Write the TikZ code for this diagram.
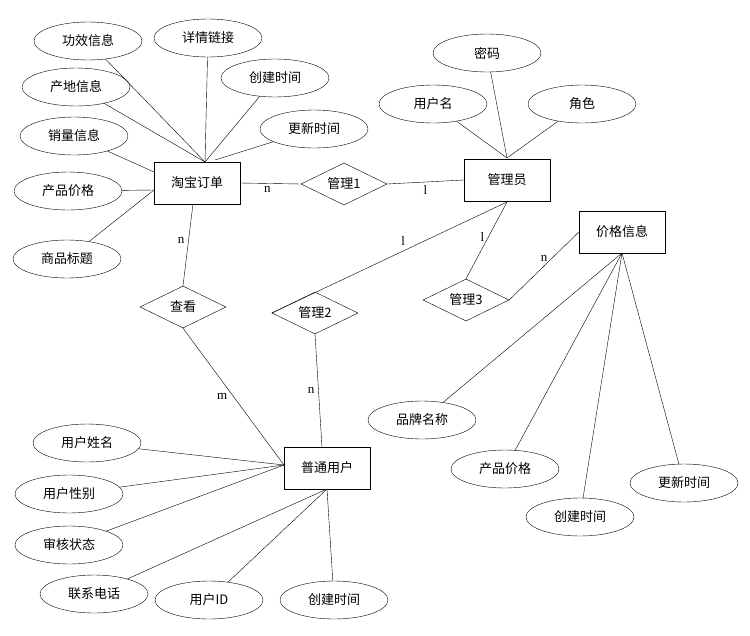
\documentclass[tikz,border=0pt]{standalone}
\usepackage{fontspec}
\setmainfont{Liberation Serif}
\newfontfamily\cjk{Noto Sans CJK SC}
\usetikzlibrary{shapes.geometric}
\begin{document}
\begin{tikzpicture}[x=1pt,y=-1pt,font=\cjk\fontsize{13}{15}\selectfont,
 attr/.style={draw,ellipse,minimum width=108pt,minimum height=38pt,inner sep=0pt},
 ent/.style={draw,rectangle,minimum width=86pt,minimum height=42pt,inner sep=0pt},
 rel/.style={draw,diamond,aspect=2,minimum width=86pt,minimum height=42pt,inner sep=0pt},
 lab/.style={font=\fontsize{13}{15}\selectfont,inner sep=1pt}]
\useasboundingbox (0,0) rectangle (750,635);
\node[ent] (tb) at (197,183) {淘宝订单};
\node[ent] (gly) at (507,180) {管理员};
\node[ent] (jg) at (622,232) {价格信息};
\node[ent] (pt) at (327,468) {普通用户};
\node[rel] (r1) at (344,184) {管理1};
\node[rel] (ck) at (183,307) {查看};
\node[rel] (r2) at (315,313) {管理2};
\node[rel] (r3) at (466,300) {管理3};
\node[attr] (a1) at (88,41) {功效信息};
\node[attr] (a2) at (208,38) {详情链接};
\node[attr] (a3) at (76,87) {产地信息};
\node[attr] (a4) at (275,78) {创建时间};
\node[attr] (a5) at (314,129) {更新时间};
\node[attr] (a6) at (74,136) {销量信息};
\node[attr] (a7) at (68,191) {产品价格};
\node[attr] (a8) at (67,259) {商品标题};
\node[attr] (b1) at (487,53) {密码};
\node[attr] (b2) at (433,104) {用户名};
\node[attr] (b3) at (582,104) {角色};
\node[attr] (c1) at (422,420) {品牌名称};
\node[attr] (c2) at (505,469) {产品价格};
\node[attr] (c3) at (580,517) {创建时间};
\node[attr] (c4) at (684,483) {更新时间};
\node[attr] (d1) at (87,443) {用户姓名};
\node[attr] (d2) at (69,494) {用户性别};
\node[attr] (d3) at (69,545) {审核状态};
\node[attr] (d4) at (94,594) {联系电话};
\node[attr] (d5) at (209,600) {用户ID};
\node[attr] (d6) at (334,600) {创建时间};
\coordinate (tt) at (205,162);
\coordinate (gt) at (507,158);
\coordinate (jb) at (622,253);
\coordinate (pl) at (284,465);
\coordinate (pb) at (327,489);
\coordinate (gb) at (507,202);
\foreach \a in {a1,a2,a3,a4} \draw (\a) -- (tt);
\draw (a5) -- (215,160);
\draw (a6) -- (154,172);
\draw (a7) -- (154,190);
\draw (a8) -- (154,190);
\foreach \a in {b1,b2,b3} \draw (\a) -- (gt);
\foreach \a in {c1,c2,c3,c4} \draw (\a) -- (jb);
\foreach \a in {d1,d2,d3} \draw (\a) -- (pl);
\foreach \a in {d4,d5,d6} \draw (\a) -- (pb);
\draw (tb.east) -- (r1.west) node[lab,pos=0.45,below=2pt] {n};
\draw (r1.east) -- (gly.west) node[lab,pos=0.5,below=2pt] {l};
\draw (193,204) -- (ck.north) node[lab,pos=0.45,left=3pt] {n};
\draw (ck.south) -- (pl) node[lab,pos=0.5,left=5pt] {m};
\draw (gb) -- (r2.west) node[lab,pos=0.42,above left=2pt] {l};
\draw (r2.south) -- (322,447) node[lab,pos=0.5,left=3pt] {n};
\draw (gb) -- (r3.north) node[lab,pos=0.45,left=3pt] {l};
\draw (r3.east) -- (jg.west) node[lab,pos=0.5,above=3pt] {n};
\end{tikzpicture}
\end{document}
